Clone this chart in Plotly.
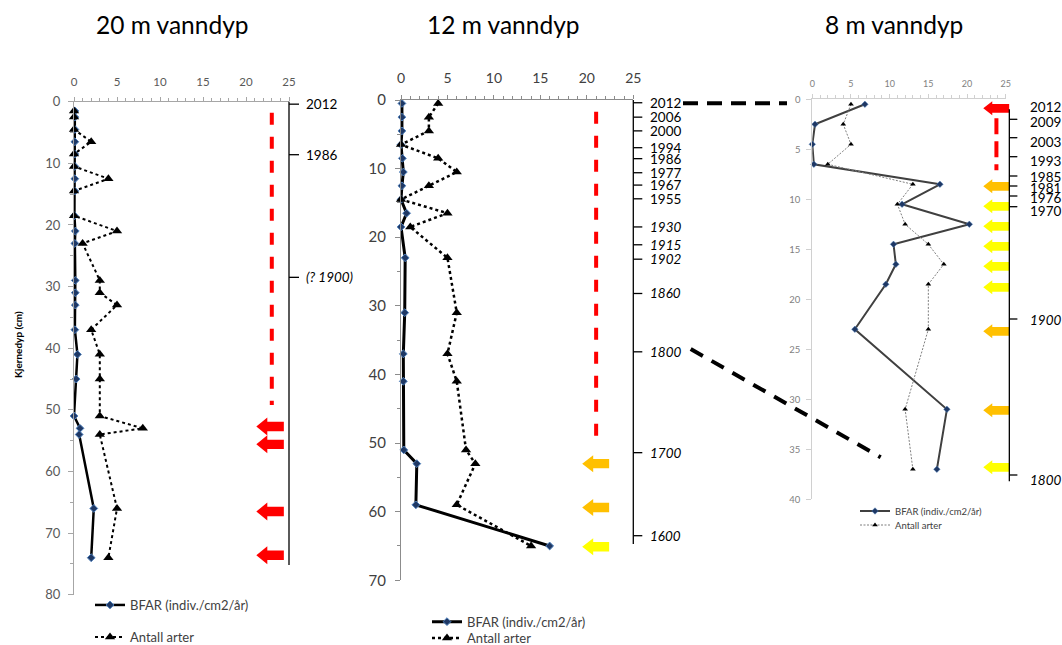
import plotly.graph_objects as go

W, H = 1062, 645

# ---------------- data ----------------
# 20 m vanndyp
depth_20 = [1.5, 2.5, 4.5, 6.5, 8.5, 10.5, 12.5, 14.5, 18.5, 21, 23, 29, 31, 33, 37, 41, 45, 51, 53, 54, 66, 74]
bfar_20 = [0.1, 0.1, 0.1, 0.1, 0.1, 0.1, 0.1, 0.1, 0.05, 0.15, 0.1, 0.15, 0.15, 0.15, 0.1, 0.4, 0.25, 0.0, 0.7, 0.6, 2.3, 2.0]
antall_20 = [0, 0, 0, 2, 0, 0, 4, 0, 0, 5, 1, 3, 3, 5, 2, 3, 3, 3, 8, 3, 5, 4]

# 12 m vanndyp
depth_12 = [0.5, 2.5, 4.5, 6.5, 8.5, 10.5, 12.5, 14.5, 16.5, 18.5, 23, 31, 37, 41, 51, 53, 59, 65]
bfar_12 = [0.1, 0.1, 0.1, 0.0, 0.15, 0.25, 0.1, 0.0, 0.6, 0.0, 0.45, 0.4, 0.25, 0.25, 0.3, 1.7, 1.6, 16.0]
antall_12 = [4, 3, 3, 0, 4, 6, 3, 0, 5, 1, 5, 6, 5, 6, 7, 8, 6, 14]

# 8 m vanndyp
depth_8 = [0.5, 2.5, 4.5, 6.5, 8.5, 10.5, 12.5, 14.5, 16.5, 18.5, 23, 31, 37]
bfar_8 = [6.8, 0.35, 0.0, 0.2, 16.5, 11.6, 20.3, 10.5, 10.8, 9.5, 5.5, 17.4, 16.1]
antall_8 = [5, 4, 5, 2, 13, 11, 12, 15, 17, 15, 15, 12, 13]

# year (dating) axes: label, depth of tick, depth of label, italic
years_20 = ["2012", "1986", "(? 1900)"]
year_tick_20 = [0.4, 8.6, 28.5]
year_lab_20 = [0.4, 8.6, 28.5]
year_it_20 = [False, False, True]

years_12 = ["2012", "2006", "2000", "1994", "1986", "1977", "1967", "1955", "1930", "1915", "1902", "1860", "1800", "1700", "1600"]
year_tick_12 = [0.4, 2.5, 4.5, 6.95, 8.55, 10.6, 12.4, 14.4, 18.5, 21.1, 23.2, 28.2, 36.7, 51.4, 63.5]
year_lab_12 = year_tick_12
year_it_12 = [False] * 8 + [True] * 7

years_8 = ["2012", "2009", "2003", "1993", "1985", "1981", "1976", "1970", "1900", "1800"]
year_tick_8 = [None, 2.0, 3.84, 5.74, 7.67, 8.67, 9.67, 10.74, 21.97, 37.57]
year_lab_8 = [0.74, 2.24, 4.3, 6.14, 7.8, 8.87, 9.9, 11.14, 22.07, 38.07]
year_it_8 = [False] * 8 + [True] * 2

# arrows (depth, colour)
RED, ORANGE, YELLOW = "#FF0000", "#FFC000", "#FFFF00"
arrow_d_20 = [52.7, 55.6, 66.5, 73.6]
arrow_c_20 = [RED, RED, RED, RED]
arrow_d_12 = [53.0, 59.4, 65.1]
arrow_c_12 = [ORANGE, ORANGE, YELLOW]
arrow_d_8 = [0.9, 8.7, 10.7, 12.7, 14.7, 16.7, 18.8, 23.2, 31.1, 36.8]
arrow_c_8 = [RED, ORANGE, YELLOW, YELLOW, YELLOW, YELLOW, YELLOW, ORANGE, ORANGE, YELLOW]

# ---------------- layout geometry (pixels) ----------------
PANELS = {
    1: dict(x0=74, x1=289, y0=101.7, y1=594.7, ymax=80),
    2: dict(x0=401, x1=633.3, y0=100, y1=580.3, ymax=70),
    3: dict(x0=812.3, x1=1005.7, y0=99.3, y1=499.3, ymax=40),
}


def px(x):
    return x / W


def py(y):
    return 1 - y / H


def to_px(panel, v, d):
    p = PANELS[panel]
    return (p["x0"] + v / 25 * (p["x1"] - p["x0"]),
            p["y0"] + d / p["ymax"] * (p["y1"] - p["y0"]))


FONT = "Lato, 'Open Sans', sans-serif"

fig = go.Figure()

# ---------------- traces ----------------
specs = [
    (1, depth_20, bfar_20, antall_20, "x", "y", "legend", "legend2"),
    (2, depth_12, bfar_12, antall_12, "x2", "y2", "legend3", "legend4"),
    (3, depth_8, bfar_8, antall_8, "x3", "y3", "legend5", "legend6"),
]
for panel, dep, bf, an, xa, ya, lg1, lg2 in specs:
    if panel == 3:
        bl = dict(color="#404040", width=2)
        bm = dict(symbol="diamond", size=5, color="#1F3864", line=dict(color="#4F81BD", width=0.5))
        al = dict(color="#7F7F7F", width=1, dash="2px,1.5px")
        am = dict(symbol="triangle-up", size=5, color="#000000")
    else:
        bl = dict(color="#000000", width=2.5 if panel == 1 else 3)
        bm = dict(symbol="diamond", size=6, color="#1F3864", line=dict(color="#4F81BD", width=1))
        al = dict(color="#000000", width=2 if panel == 1 else 2.5, dash="dot")
        am = dict(symbol="triangle-up", size=9, color="#000000")
    fig.add_trace(go.Scatter(x=bf, y=dep, mode="lines+markers", name="BFAR (indiv./cm2/år)",
                             line=bl, marker=bm, xaxis=xa, yaxis=ya, legend=lg1, cliponaxis=False))
    fig.add_trace(go.Scatter(x=an, y=dep, mode="lines+markers", name="Antall arter",
                             line=al, marker=am, xaxis=xa, yaxis=ya, legend=lg2, cliponaxis=False))

# ---------------- axes ----------------
axis_style = {
    1: dict(lc="#A6A6A6", tc="#595959", xfs=11.5, yfs=13, ydt=10, yminor=5, xstand=6, ystand=5),
    2: dict(lc="#8C8C8C", tc="#404040", xfs=14, yfs=15, ydt=10, yminor=5, xstand=6, ystand=6),
    3: dict(lc="#D0D0D0", tc="#7F7F7F", xfs=9, yfs=9.5, ydt=5, yminor=None, xstand=4, ystand=4),
}
layout_axes = {}
for panel in (1, 2, 3):
    p = PANELS[panel]
    s = axis_style[panel]
    sfx = "" if panel == 1 else str(panel)
    layout_axes["xaxis" + sfx] = dict(
        domain=[px(p["x0"]), px(p["x1"])], anchor="y" + sfx, side="top",
        range=[0, 25], dtick=5, tick0=0, showgrid=False, zeroline=False,
        showline=True, linecolor=s["lc"], linewidth=1,
        ticks="outside", ticklen=4, tickcolor=s["lc"],
        minor=dict(dtick=1, ticks="outside", ticklen=3, tickcolor=s["lc"]),
        tickfont=dict(family=FONT, size=s["xfs"], color=s["tc"]),
        ticklabelstandoff=s["xstand"], fixedrange=True,
    )
    ya = dict(
        domain=[py(p["y1"]), py(p["y0"])], anchor="x" + sfx,
        range=[p["ymax"], 0], dtick=s["ydt"], tick0=0, showgrid=False, zeroline=False,
        showline=True, linecolor=s["lc"], linewidth=1,
        ticks="outside", ticklen=5, tickcolor=s["lc"],
        tickfont=dict(family=FONT, size=s["yfs"], color=s["tc"]),
        ticklabelstandoff=s["ystand"], fixedrange=True,
    )
    if s["yminor"]:
        ya["minor"] = dict(dtick=s["yminor"], ticks="outside", ticklen=3, tickcolor=s["lc"])
    layout_axes["yaxis" + sfx] = ya

shapes = []
annotations = []

# ---------------- red dashed lines ----------------
red_lines = [(1, 23.0, 1.8, 49.2, "12px,12px"), (2, 21.0, 1.7, 50.5, "12px,12px"), (3, 23.8, 1.9, 7.1, "16px,7px")]
for panel, v, d0, d1, dash in red_lines:
    xa, ya0 = to_px(panel, v, d0)
    _, ya1 = to_px(panel, v, d1)
    shapes.append(dict(type="line", xref="paper", yref="paper", x0=px(xa), x1=px(xa), y0=py(ya0), y1=py(ya1),
                       line=dict(color=RED, width=4, dash=dash)))

# ---------------- arrows ----------------
arrow_geom = {
    1: dict(tip=21.2, tail=24.4, hl=11, hh=9, bh=4.7),
    2: dict(tip=19.5, tail=22.4, hl=11, hh=8.5, bh=4.7),
    3: dict(tip=22.1, tail=25.45, hl=9, hh=7, bh=4.4),
}
for panel, ds, cs in [(1, arrow_d_20, arrow_c_20), (2, arrow_d_12, arrow_c_12), (3, arrow_d_8, arrow_c_8)]:
    g = arrow_geom[panel]
    for d, c in zip(ds, cs):
        xt, yc = to_px(panel, g["tip"], d)
        xe, _ = to_px(panel, g["tail"], d)
        pts = [(xt, yc), (xt + g["hl"], yc - g["hh"]), (xt + g["hl"], yc - g["bh"]), (xe, yc - g["bh"]),
               (xe, yc + g["bh"]), (xt + g["hl"], yc + g["bh"]), (xt + g["hl"], yc + g["hh"])]
        path = "M " + " L ".join(f"{px(x):.5f},{py(y):.5f}" for x, y in pts) + " Z"
        shapes.append(dict(type="path", xref="paper", yref="paper", path=path, fillcolor=c, line=dict(width=0)))

# ---------------- dating axes ----------------
year_axes = [
    (1, 25.0, 0.0, 75.2, 10, 15, years_20, year_tick_20, year_lab_20, year_it_20),
    (2, 25.0, 0.0, 64.7, 9, 15, years_12, year_tick_12, year_lab_12, year_it_12),
    (3, 25.47, 1.0, 38.2, 8, 19, years_8, year_tick_8, year_lab_8, year_it_8),
]
for panel, v, d0, d1, tl, lo, labs, ticks, lpos, ital in year_axes:
    xl, yl0 = to_px(panel, v, d0)
    _, yl1 = to_px(panel, v, d1)
    shapes.append(dict(type="line", xref="paper", yref="paper", x0=px(xl), x1=px(xl), y0=py(yl0), y1=py(yl1),
                       line=dict(color="#000000", width=1.3)))
    for lab, td, ld, it in zip(labs, ticks, lpos, ital):
        if td is not None:
            _, yt = to_px(panel, v, td)
            shapes.append(dict(type="line", xref="paper", yref="paper", x0=px(xl), x1=px(xl + tl),
                               y0=py(yt), y1=py(yt), line=dict(color="#000000", width=1.3)))
        _, ylab = to_px(panel, v, ld)
        annotations.append(dict(xref="paper", yref="paper", x=px(xl + lo), y=py(ylab), text=lab,
                                showarrow=False, xanchor="left", yanchor="middle",
                                font=dict(family=FONT, size=13.5, color="#000000",
                                          style="italic" if it else "normal")))

# ---------------- black dashed connectors ----------------
connectors = [((683, 103.3), (787, 103.3), "15px,9px"), ((690.7, 349), (880.7, 457.3), "14px,10px")]
for (xa, ya), (xb, yb), dash in connectors:
    shapes.append(dict(type="line", xref="paper", yref="paper", x0=px(xa), y0=py(ya), x1=px(xb), y1=py(yb),
                       line=dict(color="#000000", width=4, dash=dash)))

# ---------------- titles ----------------
titles = [("20 m vanndyp", 172.5), ("12 m vanndyp", 503), ("8 m vanndyp", 893.5)]
for t, xc in titles:
    annotations.append(dict(xref="paper", yref="paper", x=px(xc), y=py(24), text=t, showarrow=False,
                            xanchor="center", yanchor="middle",
                            font=dict(family=FONT, size=24.5, color="#000000")))

annotations.append(dict(xref="paper", yref="paper", x=px(18), y=py(345), text="<b>Kjernedyp (cm)</b>",
                        showarrow=False, textangle=-90, xanchor="center", yanchor="middle",
                        font=dict(family=FONT, size=10, color="#000000")))


# ---------------- legends ----------------
def leg(text_x, yc, size, color):
    return dict(x=px(text_x - 40), y=py(yc), xanchor="left", yanchor="middle", orientation="v",
                bgcolor="rgba(0,0,0,0)", borderwidth=0,
                font=dict(family=FONT, size=size, color=color))


fig.update_layout(
    width=W, height=H, margin=dict(l=0, r=0, t=0, b=0, autoexpand=False),
    paper_bgcolor="white", plot_bgcolor="white",
    showlegend=True,
    legend=leg(130, 605, 13, "#404040"),
    legend2=leg(130, 637, 13, "#404040"),
    legend3=leg(467, 621.7, 13, "#404040"),
    legend4=leg(467, 638, 13, "#404040"),
    legend5=leg(895, 511, 9.5, "#404040"),
    legend6=leg(895, 525, 9.5, "#404040"),
    shapes=shapes, annotations=annotations,
    **layout_axes,
)

fig.write_html("out.html")
